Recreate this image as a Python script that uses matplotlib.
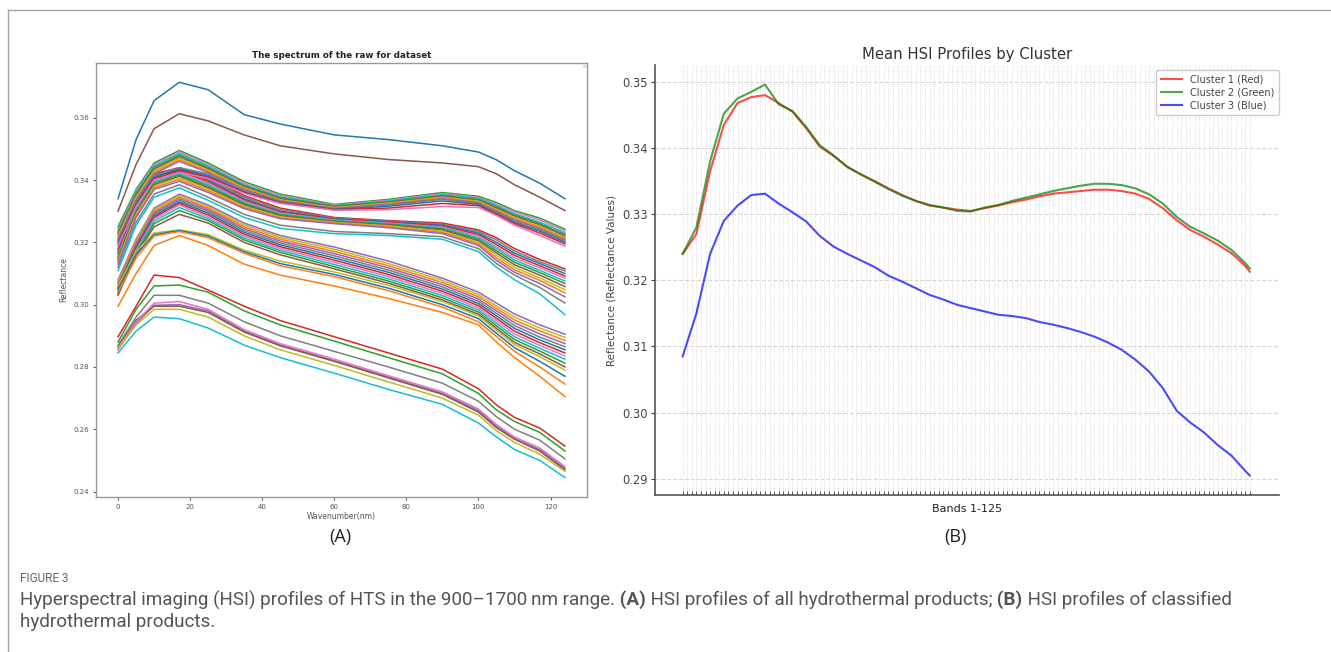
import matplotlib
matplotlib.use("Agg")
import matplotlib.pyplot as plt
from matplotlib.lines import Line2D

W, H = 1331, 652

# ---- panel A: raw spectra (read every few bands) ----
WAVE_X = [0, 5, 10, 17, 25, 35, 45, 60, 75, 90, 100, 105, 110, 117, 124]

# row order follows the tab10 colour cycle of the original plot
SPECTRA_A = [
    [0.3340, 0.3530, 0.3655, 0.3714, 0.3690, 0.3610, 0.3580, 0.3545, 0.3530, 0.3510, 0.3490, 0.3465, 0.3430, 0.3390, 0.3340],
    [0.2995, 0.3100, 0.3190, 0.3222, 0.3190, 0.3130, 0.3095, 0.3060, 0.3020, 0.2975, 0.2935, 0.2880, 0.2830, 0.2770, 0.2705],
    [0.3250, 0.3370, 0.3455, 0.3495, 0.3455, 0.3395, 0.3355, 0.3322, 0.3338, 0.3360, 0.3348, 0.3328, 0.3302, 0.3278, 0.3242],
    [0.3180, 0.3330, 0.3420, 0.3440, 0.3410, 0.3350, 0.3310, 0.3280, 0.3270, 0.3262, 0.3240, 0.3215, 0.3180, 0.3145, 0.3115],
    [0.3080, 0.3210, 0.3310, 0.3355, 0.3320, 0.3262, 0.3222, 0.3185, 0.3140, 0.3085, 0.3040, 0.3005, 0.2970, 0.2935, 0.2905],
    [0.3300, 0.3450, 0.3565, 0.3613, 0.3590, 0.3545, 0.3510, 0.3484, 0.3466, 0.3455, 0.3443, 0.3420, 0.3385, 0.3345, 0.3302],
    [0.3240, 0.3365, 0.3450, 0.3490, 0.3450, 0.3390, 0.3350, 0.3320, 0.3335, 0.3356, 0.3345, 0.3322, 0.3298, 0.3272, 0.3236],
    [0.3175, 0.3325, 0.3415, 0.3436, 0.3405, 0.3345, 0.3305, 0.3278, 0.3268, 0.3258, 0.3235, 0.3208, 0.3172, 0.3138, 0.3108],
    [0.3075, 0.3205, 0.3305, 0.3350, 0.3315, 0.3256, 0.3216, 0.3178, 0.3132, 0.3078, 0.3032, 0.2996, 0.2960, 0.2925, 0.2895],
    [0.3235, 0.3360, 0.3445, 0.3485, 0.3445, 0.3385, 0.3346, 0.3318, 0.3333, 0.3353, 0.3342, 0.3318, 0.3292, 0.3265, 0.3230],
    [0.3170, 0.3320, 0.3410, 0.3432, 0.3400, 0.3340, 0.3300, 0.3276, 0.3266, 0.3255, 0.3230, 0.3200, 0.3165, 0.3132, 0.3100],
    [0.3070, 0.3200, 0.3300, 0.3345, 0.3310, 0.3250, 0.3210, 0.3171, 0.3125, 0.3071, 0.3025, 0.2988, 0.2951, 0.2916, 0.2885],
    [0.3230, 0.3355, 0.3440, 0.3480, 0.3440, 0.3382, 0.3343, 0.3316, 0.3330, 0.3350, 0.3338, 0.3314, 0.3288, 0.3260, 0.3225],
    [0.3165, 0.3315, 0.3405, 0.3428, 0.3395, 0.3336, 0.3297, 0.3274, 0.3264, 0.3252, 0.3225, 0.3193, 0.3158, 0.3125, 0.3092],
    [0.3065, 0.3195, 0.3295, 0.3340, 0.3305, 0.3244, 0.3204, 0.3164, 0.3118, 0.3064, 0.3018, 0.2980, 0.2942, 0.2906, 0.2875],
    [0.3225, 0.3350, 0.3435, 0.3475, 0.3436, 0.3378, 0.3340, 0.3314, 0.3328, 0.3348, 0.3335, 0.3310, 0.3284, 0.3256, 0.3220],
    [0.3160, 0.3310, 0.3400, 0.3424, 0.3390, 0.3332, 0.3294, 0.3272, 0.3262, 0.3249, 0.3220, 0.3186, 0.3150, 0.3118, 0.3085],
    [0.3060, 0.3190, 0.3290, 0.3335, 0.3300, 0.3238, 0.3198, 0.3157, 0.3111, 0.3057, 0.3011, 0.2972, 0.2933, 0.2896, 0.2865],
    [0.3220, 0.3345, 0.3430, 0.3470, 0.3432, 0.3375, 0.3337, 0.3312, 0.3326, 0.3345, 0.3332, 0.3306, 0.3280, 0.3252, 0.3216],
    [0.3155, 0.3305, 0.3395, 0.3420, 0.3385, 0.3328, 0.3291, 0.3270, 0.3260, 0.3246, 0.3215, 0.3180, 0.3143, 0.3110, 0.3076],
    [0.3055, 0.3185, 0.3285, 0.3330, 0.3294, 0.3232, 0.3192, 0.3150, 0.3104, 0.3050, 0.3004, 0.2964, 0.2924, 0.2887, 0.2855],
    [0.3215, 0.3340, 0.3425, 0.3465, 0.3428, 0.3372, 0.3335, 0.3310, 0.3324, 0.3343, 0.3330, 0.3303, 0.3276, 0.3248, 0.3212],
    [0.3150, 0.3300, 0.3390, 0.3416, 0.3380, 0.3324, 0.3288, 0.3268, 0.3258, 0.3243, 0.3210, 0.3173, 0.3136, 0.3103, 0.3068],
    [0.3050, 0.3180, 0.3280, 0.3325, 0.3288, 0.3226, 0.3186, 0.3143, 0.3097, 0.3043, 0.2997, 0.2956, 0.2915, 0.2878, 0.2845],
    [0.3210, 0.3335, 0.3420, 0.3460, 0.3424, 0.3369, 0.3333, 0.3309, 0.3322, 0.3340, 0.3327, 0.3300, 0.3272, 0.3244, 0.3208],
    [0.3145, 0.3295, 0.3385, 0.3412, 0.3375, 0.3320, 0.3285, 0.3266, 0.3256, 0.3240, 0.3205, 0.3166, 0.3128, 0.3095, 0.3058],
    [0.3045, 0.3175, 0.3275, 0.3320, 0.3282, 0.3220, 0.3180, 0.3136, 0.3090, 0.3036, 0.2990, 0.2948, 0.2906, 0.2869, 0.2835],
    [0.3205, 0.3330, 0.3415, 0.3440, 0.3420, 0.3366, 0.3331, 0.3308, 0.3320, 0.3338, 0.3325, 0.3297, 0.3268, 0.3240, 0.3205],
    [0.3140, 0.3290, 0.3380, 0.3408, 0.3370, 0.3316, 0.3282, 0.3264, 0.3253, 0.3236, 0.3200, 0.3158, 0.3120, 0.3086, 0.3048],
    [0.3040, 0.3170, 0.3268, 0.3312, 0.3276, 0.3214, 0.3174, 0.3129, 0.3083, 0.3029, 0.2983, 0.2940, 0.2897, 0.2860, 0.2825],
    [0.3200, 0.3325, 0.3410, 0.3435, 0.3415, 0.3362, 0.3329, 0.3306, 0.3316, 0.3333, 0.3322, 0.3293, 0.3264, 0.3236, 0.3200],
    [0.3135, 0.3285, 0.3375, 0.3402, 0.3365, 0.3312, 0.3279, 0.3262, 0.3250, 0.3232, 0.3195, 0.3150, 0.3112, 0.3078, 0.3038],
    [0.3035, 0.3165, 0.3260, 0.3302, 0.3270, 0.3208, 0.3168, 0.3122, 0.3076, 0.3022, 0.2976, 0.2932, 0.2888, 0.2851, 0.2812],
    [0.3195, 0.3320, 0.3405, 0.3430, 0.3410, 0.3360, 0.3327, 0.3305, 0.3310, 0.3325, 0.3318, 0.3290, 0.3260, 0.3230, 0.3195],
    [0.3130, 0.3280, 0.3370, 0.3396, 0.3360, 0.3308, 0.3276, 0.3260, 0.3247, 0.3228, 0.3190, 0.3142, 0.3104, 0.3068, 0.3025],
    [0.3030, 0.3160, 0.3250, 0.3290, 0.3262, 0.3200, 0.3160, 0.3115, 0.3069, 0.3015, 0.2969, 0.2924, 0.2879, 0.2842, 0.2800],
    [0.3190, 0.3315, 0.3400, 0.3425, 0.3405, 0.3357, 0.3325, 0.3303, 0.3305, 0.3315, 0.3312, 0.3286, 0.3255, 0.3222, 0.3188],
    [0.3120, 0.3265, 0.3355, 0.3385, 0.3345, 0.3290, 0.3255, 0.3235, 0.3228, 0.3218, 0.3180, 0.3132, 0.3095, 0.3055, 0.3005],
    [0.3060, 0.3170, 0.3230, 0.3240, 0.3225, 0.3175, 0.3140, 0.3105, 0.3062, 0.3010, 0.2964, 0.2918, 0.2872, 0.2833, 0.2790],
    [0.3110, 0.3255, 0.3345, 0.3375, 0.3335, 0.3280, 0.3245, 0.3228, 0.3222, 0.3210, 0.3170, 0.3120, 0.3080, 0.3035, 0.2968],
    [0.3050, 0.3160, 0.3225, 0.3238, 0.3220, 0.3170, 0.3132, 0.3097, 0.3053, 0.3000, 0.2955, 0.2908, 0.2862, 0.2818, 0.2770],
    [0.3040, 0.3150, 0.3220, 0.3235, 0.3215, 0.3165, 0.3125, 0.3090, 0.3045, 0.2992, 0.2945, 0.2898, 0.2850, 0.2800, 0.2745],
    # lower group
    [0.2880, 0.2985, 0.3060, 0.3063, 0.3040, 0.2980, 0.2935, 0.2883, 0.2830, 0.2778, 0.2715, 0.2662, 0.2625, 0.2590, 0.2530],
    [0.2897, 0.2995, 0.3095, 0.3087, 0.3047, 0.2995, 0.2949, 0.2897, 0.2845, 0.2793, 0.2730, 0.2678, 0.2638, 0.2604, 0.2546],
    [0.2855, 0.2940, 0.2998, 0.3000, 0.2980, 0.2915, 0.2870, 0.2820, 0.2768, 0.2715, 0.2660, 0.2610, 0.2570, 0.2535, 0.2475],
    [0.2865, 0.2950, 0.2995, 0.2995, 0.2975, 0.2912, 0.2868, 0.2818, 0.2765, 0.2712, 0.2655, 0.2605, 0.2568, 0.2530, 0.2470],
    [0.2860, 0.2945, 0.3005, 0.3010, 0.2985, 0.2920, 0.2875, 0.2825, 0.2772, 0.2720, 0.2665, 0.2615, 0.2575, 0.2540, 0.2480],
    [0.2870, 0.2960, 0.3030, 0.3030, 0.3005, 0.2945, 0.2900, 0.2850, 0.2800, 0.2748, 0.2690, 0.2640, 0.2600, 0.2565, 0.2505],
    [0.2858, 0.2935, 0.2985, 0.2985, 0.2960, 0.2900, 0.2855, 0.2805, 0.2752, 0.2700, 0.2645, 0.2595, 0.2558, 0.2520, 0.2465],
    [0.2845, 0.2915, 0.2960, 0.2955, 0.2925, 0.2870, 0.2830, 0.2780, 0.2728, 0.2680, 0.2620, 0.2575, 0.2535, 0.2500, 0.2445],
]

# ---- panel B: cluster means (read every third band) ----
BANDS = list(range(1, 126))
BANDS_B = [1, 4, 7, 10, 13, 16, 19, 22, 25, 28, 31, 34, 37, 40, 43, 46, 49, 52, 55, 58, 61,
           64, 67, 70, 73, 76, 79, 82, 85, 88, 91, 94, 97, 100, 103, 106, 109, 112, 115, 118,
           121, 124, 125]
cluster1_red = [0.3240, 0.3270, 0.3365, 0.3435, 0.3468, 0.3477, 0.3480, 0.3468, 0.3455, 0.3430,
                0.3402, 0.3388, 0.3372, 0.3360, 0.3350, 0.3339, 0.3329, 0.3320, 0.3313, 0.3310,
                0.3307, 0.3305, 0.3309, 0.3313, 0.3318, 0.3322, 0.3327, 0.3331, 0.3333, 0.3335,
                0.3337, 0.3337, 0.3335, 0.3331, 0.3323, 0.3309, 0.3291, 0.3276, 0.3266, 0.3254,
                0.3241, 0.3222, 0.3213]
cluster2_green = [0.3240, 0.3280, 0.3380, 0.3452, 0.3475, 0.3485, 0.3496, 0.3466, 0.3456, 0.3432,
                  0.3404, 0.3389, 0.3371, 0.3360, 0.3349, 0.3338, 0.3328, 0.3320, 0.3314, 0.3310,
                  0.3305, 0.3304, 0.3310, 0.3314, 0.3320, 0.3325, 0.3330, 0.3335, 0.3339, 0.3343,
                  0.3346, 0.3346, 0.3344, 0.3339, 0.3330, 0.3316, 0.3296, 0.3281, 0.3271, 0.3260,
                  0.3246, 0.3226, 0.3218]
cluster3_blue = [0.3085, 0.3150, 0.3240, 0.3290, 0.3313, 0.3329, 0.3331, 0.3316, 0.3303, 0.3289,
                 0.3267, 0.3251, 0.3240, 0.3230, 0.3220, 0.3207, 0.3198, 0.3188, 0.3178, 0.3171,
                 0.3163, 0.3158, 0.3153, 0.3148, 0.3146, 0.3143, 0.3137, 0.3133, 0.3128, 0.3122,
                 0.3115, 0.3106, 0.3095, 0.3080, 0.3062, 0.3037, 0.3003, 0.2985, 0.2970, 0.2951,
                 0.2935, 0.2912, 0.2905]
Y_TICKS_B = [0.29, 0.30, 0.31, 0.32, 0.33, 0.34, 0.35]

# leading spaces are measured, trailing ones are not -> keep gaps at run starts
CAPTION_1 = [("Hyperspectral imaging (HSI) profiles of HTS in the 900\u20131700\u2009nm range.", "normal"),
             (" (A)", "bold"),
             (" HSI profiles of all hydrothermal products;", "normal"),
             (" (B)", "bold"),
             (" HSI profiles of classified", "normal")]
CAPTION_2 = [("hydrothermal products.", "normal")]
CAP_FONT = ["Roboto", "DejaVu Sans"]


def px_box(x0, y0, x1, y1):
    # pixel box (top-left origin) -> figure fraction rect
    return [x0 / W, 1 - y1 / H, (x1 - x0) / W, (y1 - y0) / H]


fig = plt.figure(figsize=(W / 100, H / 100), dpi=100)
fig.patch.set_facecolor("white")

# outer frame lines of the figure box
fig.add_artist(Line2D([8 / W, 1], [1 - 10 / H, 1 - 10 / H], color="#a0a0a0", lw=1))
fig.add_artist(Line2D([8 / W, 8 / W], [1 - 10 / H, 0], color="#a0a0a0", lw=1))

# ---------------- panel A ----------------
ax_a = fig.add_axes(px_box(95.7, 62.5, 587.3, 497.3))
ax_a.set_prop_cycle(color=plt.cm.tab10.colors)
for row in SPECTRA_A:
    ax_a.plot(WAVE_X, row, lw=1.1)
ax_a.set_title("The spectrum of the raw for dataset", fontsize=6.3, fontweight="bold",
               color="#222222", pad=3)
ax_a.set_xlabel("Wavenumber(nm)", fontsize=5.5, color="#555555", labelpad=2)
ax_a.set_ylabel("Reflectance", fontsize=5.5, color="#555555", labelpad=4)
ax_a.set_xticks([0, 20, 40, 60, 80, 100, 120])
ax_a.set_yticks([0.24, 0.26, 0.28, 0.30, 0.32, 0.34, 0.36])
ax_a.tick_params(labelsize=5, colors="#555555", length=2.5, width=0.7, pad=2)
for sp in ax_a.spines.values():
    sp.set_color("#999999")
    sp.set_linewidth(1.0)
leg_a = ax_a.legend(handles=[], labels=[], loc="upper right", fontsize=3,
                    borderpad=0.3, framealpha=1)
leg_a.get_frame().set_edgecolor("#dddddd")

fig.text(340 / W, 1 - 537 / H, "(A)", fontsize=13, color="#222222",
         family="Open Sans", ha="center", va="center")

# ---------------- panel B ----------------
ax_b = fig.add_axes(px_box(655, 65, 1279, 495))
ax_b.plot(BANDS_B, cluster1_red, color="red", alpha=0.7, lw=1.5, label="Cluster 1 (Red)")
ax_b.plot(BANDS_B, cluster2_green, color="green", alpha=0.7, lw=1.5, label="Cluster 2 (Green)")
ax_b.plot(BANDS_B, cluster3_blue, color="blue", alpha=0.7, lw=1.5, label="Cluster 3 (Blue)")
ax_b.set_xlim(BANDS[0] - 6.05, BANDS[-1] + 6.4)
ax_b.set_xticks(BANDS)
ax_b.set_xticklabels([])
ax_b.set_yticks(Y_TICKS_B)
ax_b.set_yticklabels([f"{v:.2f}" for v in Y_TICKS_B])
ax_b.tick_params(axis="x", direction="in", length=3, width=0.7, colors="#555555")
ax_b.tick_params(axis="y", labelsize=8.3, colors="#444444", length=3, width=0.8, pad=2)
ax_b.grid(axis="x", color="#cfcfcf", linestyle=":", lw=0.6)
ax_b.grid(axis="y", color="#d8d8d8", linestyle="--", lw=0.8)
for side in ("top", "right"):
    ax_b.spines[side].set_visible(False)
for side in ("left", "bottom"):
    ax_b.spines[side].set_color("#555555")
    ax_b.spines[side].set_linewidth(1.2)
ax_b.set_title("Mean HSI Profiles by Cluster", fontsize=10.7, color="#333333", pad=4)
ax_b.set_xlabel("Bands 1-125", fontsize=8, color="#222222", labelpad=3)
ax_b.set_ylabel("Reflectance (Reflectance Values)", fontsize=7.5, color="#444444", labelpad=4)
leg_b = ax_b.legend(loc="upper right", fontsize=7, handlelength=2.2, framealpha=1,
                    borderpad=0.5, labelspacing=0.3, bbox_to_anchor=(1.008, 1.0))
leg_b.get_frame().set_edgecolor("#cccccc")
for t in leg_b.get_texts():
    t.set_color("#444444")

fig.text(955 / W, 1 - 537 / H, "(B)", fontsize=13, color="#222222",
         family="Open Sans", ha="center", va="center")

# ---------------- caption ----------------
fig.text(20 / W, 1 - 578 / H, "FIGURE 3", fontsize=8.5, color="#666666",
         family=CAP_FONT, va="center")


def draw_runs(x_px, y_px, runs, size):
    renderer = fig.canvas.get_renderer()
    x = x_px
    for txt, weight in runs:
        t = fig.text(x / W, 1 - y_px / H, txt, fontsize=size, fontweight=weight,
                     color="#555555", family=CAP_FONT, va="center")
        x += t.get_window_extent(renderer).width
    return x - x_px


# size the caption so its first line spans the same width as in the figure
probe = fig.text(0, 0, "".join(t for t, _ in CAPTION_1), fontsize=10, family=CAP_FONT)
probe_w = probe.get_window_extent(fig.canvas.get_renderer()).width
probe.remove()
cap_size = 10 * 1212 / probe_w
draw_runs(20, 600, CAPTION_1, cap_size)
draw_runs(20, 622, CAPTION_2, cap_size)

fig.savefig("out.png", dpi=100)
